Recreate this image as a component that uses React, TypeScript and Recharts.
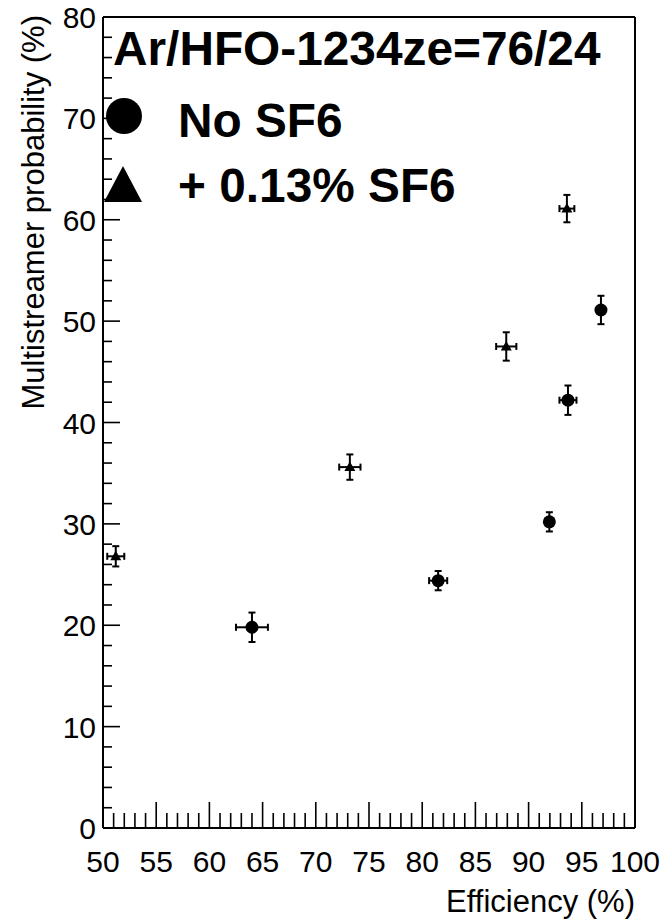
import React from 'react';
import { ScatterChart, Scatter, XAxis, YAxis, ErrorBar, ReferenceLine, Customized } from 'recharts';

// ---- Data ----
const noSF6Eff = [64.0, 81.5, 91.95, 93.7, 96.8];
const noSF6Prob = [19.8, 24.4, 30.2, 42.2, 51.1];
const noSF6EffErr = [1.5, 0.85, 0.4, 0.8, 0.4];
const noSF6ProbErr = [1.45, 0.95, 0.95, 1.45, 1.4];

const sf6Eff = [51.2, 73.2, 87.9, 93.6];
const sf6Prob = [26.8, 35.6, 47.5, 61.1];
const sf6EffErr = [0.8, 1.0, 0.95, 0.7];
const sf6ProbErr = [1.0, 1.25, 1.4, 1.35];

const xMajorTicks = [50, 55, 60, 65, 70, 75, 80, 85, 90, 95, 100];
const yMajorTicks = [0, 10, 20, 30, 40, 50, 60, 70, 80];
const xMinorStep = 1;
const yMinorStep = 2;

const titleText = 'Ar/HFO-1234ze=76/24';
const legendNames = ['No SF6', '+ 0.13% SF6'];
const xLabel = 'Efficiency (%)';
const yLabel = 'Multistreamer probability (%)';

// ---- Derived ----
const buildTicks = (lo: number, hi: number, step: number) => {
  const out: number[] = [];
  for (let v = lo; v <= hi + 1e-9; v += step) out.push(Math.round(v * 100) / 100);
  return out;
};
const xTicks = buildTicks(xMajorTicks[0], xMajorTicks[xMajorTicks.length - 1], xMinorStep);
const yTicks = buildTicks(yMajorTicks[0], yMajorTicks[yMajorTicks.length - 1], yMinorStep);

const noSF6Data = noSF6Eff.map((x, i) => ({ x, y: noSF6Prob[i], ex: noSF6EffErr[i], ey: noSF6ProbErr[i] }));
const sf6Data = sf6Eff.map((x, i) => ({ x, y: sf6Prob[i], ex: sf6EffErr[i], ey: sf6ProbErr[i] }));

const FONT = '"Liberation Sans", Arial, Helvetica, sans-serif';

const XTick = (props: any) => {
  const { x, y, payload } = props;
  const v = payload.value;
  const major = xMajorTicks.includes(v);
  return (
    <g>
      <line x1={x} y1={y} x2={x} y2={y - (major ? 26 : 15)} stroke="#000" strokeWidth={1.6} />
      {major && (
        <text x={x} y={y + 44} textAnchor="middle" fontSize={30} fontFamily={FONT} fill="#000">
          {v}
        </text>
      )}
    </g>
  );
};

const YTick = (props: any) => {
  const { x, y, payload } = props;
  const v = payload.value;
  const major = yMajorTicks.includes(v);
  return (
    <g>
      <line x1={x} y1={y} x2={x + (major ? 17 : 9)} y2={y} stroke="#000" strokeWidth={1.6} />
      {major && (
        <text x={x - 7} y={y + 11} textAnchor="end" fontSize={30} fontFamily={FONT} fill="#000">
          {v}
        </text>
      )}
    </g>
  );
};

const circleShape = (p: any) => <circle cx={p.cx} cy={p.cy} r={6.5} fill="#000" />;
const triShape = (p: any) => (
  <polygon
    points={`${p.cx},${p.cy - 5.5} ${p.cx - 5.5},${p.cy + 4} ${p.cx + 5.5},${p.cy + 4}`}
    fill="#000"
  />
);

const Overlay = () => (
  <g fontFamily={FONT} fill="#000">
    <text x={113} y={65} fontSize={47.8} fontWeight="bold">{titleText}</text>
    <circle cx={124} cy={116} r={18} fill="#000" />
    <text x={178} y={137} fontSize={47.8} fontWeight="bold">{legendNames[0]}</text>
    <polygon points="123,166 104,202 142,202" fill="#000" />
    <text x={178} y={202} fontSize={47.8} fontWeight="bold">{legendNames[1]}</text>
    <text x={635} y={912} fontSize={31} textAnchor="end">{xLabel}</text>
    <text x={44} y={15} fontSize={31} textAnchor="end" transform="rotate(-90, 44, 15)">{yLabel}</text>
  </g>
);

export default function App() {
  return (
    <div style={{ position: 'absolute', left: 0, top: 0, width: 662, height: 923, background: '#fff' }}>
      <ScatterChart width={662} height={923} margin={{ top: 17, right: 27, bottom: 0, left: 0 }}>
        <XAxis
          type="number"
          dataKey="x"
          domain={[50, 100]}
          ticks={xTicks}
          interval={0}
          allowDataOverflow
          height={95}
          tickSize={0}
          tickMargin={0}
          tickLine={false}
          axisLine={{ stroke: '#000', strokeWidth: 2 }}
          tick={<XTick />}
        />
        <YAxis
          type="number"
          dataKey="y"
          domain={[0, 80]}
          ticks={yTicks}
          interval={0}
          allowDataOverflow
          width={103}
          tickSize={0}
          tickMargin={0}
          tickLine={false}
          axisLine={{ stroke: '#000', strokeWidth: 2 }}
          tick={<YTick />}
        />
        <ReferenceLine y={80} stroke="#000" strokeWidth={2} />
        <ReferenceLine x={100} stroke="#000" strokeWidth={2} />
        <Scatter data={noSF6Data} shape={circleShape} isAnimationActive={false}>
          <ErrorBar dataKey="ex" direction="x" width={3.5} stroke="#000" strokeWidth={2} />
          <ErrorBar dataKey="ey" direction="y" width={3.5} stroke="#000" strokeWidth={2} />
        </Scatter>
        <Scatter data={sf6Data} shape={triShape} isAnimationActive={false}>
          <ErrorBar dataKey="ex" direction="x" width={3.5} stroke="#000" strokeWidth={2} />
          <ErrorBar dataKey="ey" direction="y" width={3.5} stroke="#000" strokeWidth={2} />
        </Scatter>
        <Customized component={Overlay} />
      </ScatterChart>
    </div>
  );
}
